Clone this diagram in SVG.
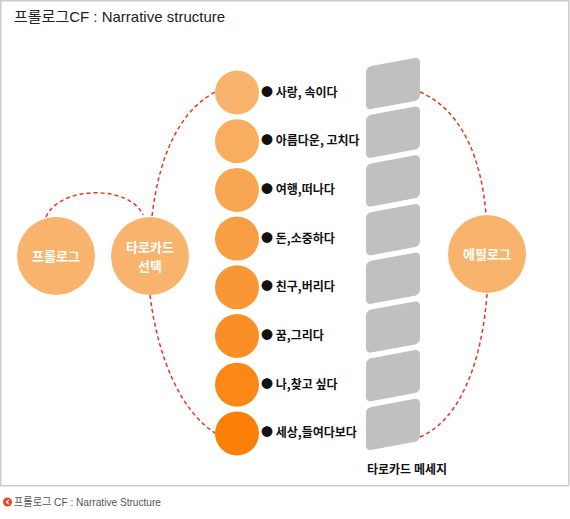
<svg xmlns="http://www.w3.org/2000/svg" width="570" height="519" viewBox="0 0 570 519">
<defs>
<style>
.frame{fill:#fff;stroke:#cccccc;stroke-width:1.5}
.title{font-family:"Liberation Sans","Noto Sans CJK KR",sans-serif;font-size:15px;fill:#222}
.cap{font-family:"Liberation Sans","Noto Sans CJK KR",sans-serif;font-size:11px;fill:#555}
.big{fill:#F8B46D}
.nt{font-family:"Noto Sans CJK KR",sans-serif;font-size:13px;font-weight:bold;fill:#fff;text-anchor:middle}
.lbl{font-family:"Noto Sans CJK KR",sans-serif;font-size:12px;font-weight:bold;fill:#111}
.card{fill:#C0C0C0}
.dash{fill:none;stroke:#EE3322;stroke-width:1.5;stroke-dasharray:4 3}
</style>
</defs>
<rect class="frame" x="0.75" y="0.75" width="568" height="485"/>
<text class="title" x="14" y="22">프롤로그CF : Narrative structure</text>

<g id="connectors">
<path class="dash" d="M46,217 C60,185 130,185 143,215"/>
<path class="dash" d="M152,216 C160,150 182,110 215,92"/>
<path class="dash" d="M150,295 C158,360 182,412 215,433"/>
<path class="dash" d="M420,92 C462,110 482,160 486,215"/>
<path class="dash" d="M487,294 C482,362 460,420 420,437"/>
</g>

<g id="prologue"><circle class="big" cx="56" cy="256" r="39"/><text class="nt" x="56" y="261">프롤로그</text></g>
<g id="tarot-select"><circle class="big" cx="150" cy="256" r="39"/><text class="nt" x="150" y="252">타로카드</text><text class="nt" x="150" y="271">선택</text></g>
<g id="epilogue"><circle class="big" cx="487" cy="254" r="39"/><text class="nt" x="487" y="259">에필로그</text></g>

<g id="step1"><circle cx="237" cy="92.5" r="22" fill="#F8B46C"/><text class="lbl" x="261" y="96.5">● 사랑, 속이다</text></g>
<g id="step2"><circle cx="237" cy="141.2" r="22" fill="#F8AD5F"/><text class="lbl" x="261" y="145.2">● 아름다운, 고치다</text></g>
<g id="step3"><circle cx="237" cy="189.9" r="22" fill="#F8A652"/><text class="lbl" x="261" y="193.9">● 여행,떠나다</text></g>
<g id="step4"><circle cx="237" cy="238.6" r="22" fill="#F89E44"/><text class="lbl" x="261" y="242.6">● 돈,소중하다</text></g>
<g id="step5"><circle cx="237" cy="287.3" r="22" fill="#F99636"/><text class="lbl" x="261" y="291.3">● 친구,버리다</text></g>
<g id="step6"><circle cx="237" cy="336" r="22" fill="#FA8E27"/><text class="lbl" x="261" y="340">● 꿈,그리다</text></g>
<g id="step7"><circle cx="237" cy="384.7" r="22" fill="#FB8717"/><text class="lbl" x="261" y="388.7">● 나,찾고 싶다</text></g>
<g id="step8"><circle cx="237" cy="433.4" r="22" fill="#FC8008"/><text class="lbl" x="261" y="437.4">● 세상,들여다보다</text></g>

<g id="cards">
<rect class="card" x="0" y="0" width="54" height="43" rx="5" transform="translate(366,67) skewY(-10.5)"/>
<rect class="card" x="0" y="0" width="54" height="43" rx="5" transform="translate(366,115.7) skewY(-10.5)"/>
<rect class="card" x="0" y="0" width="54" height="43" rx="5" transform="translate(366,164.4) skewY(-10.5)"/>
<rect class="card" x="0" y="0" width="54" height="43" rx="5" transform="translate(366,213.1) skewY(-10.5)"/>
<rect class="card" x="0" y="0" width="54" height="43" rx="5" transform="translate(366,261.8) skewY(-10.5)"/>
<rect class="card" x="0" y="0" width="54" height="43" rx="5" transform="translate(366,310.5) skewY(-10.5)"/>
<rect class="card" x="0" y="0" width="54" height="43" rx="5" transform="translate(366,359.2) skewY(-10.5)"/>
<rect class="card" x="0" y="0" width="54" height="43" rx="5" transform="translate(366,407.9) skewY(-10.5)"/>
<text class="lbl" x="367" y="474">타로카드 메세지</text>
</g>

<circle cx="7.5" cy="502" r="4.5" fill="#E8452C"/>
<path d="M8.8,499.8 L6.5,502 L8.8,504.2" fill="none" stroke="#fff" stroke-width="1.2"/>
<text class="cap" x="14" y="506" textLength="147" lengthAdjust="spacingAndGlyphs">프롤로그 CF : Narrative Structure</text>
</svg>
